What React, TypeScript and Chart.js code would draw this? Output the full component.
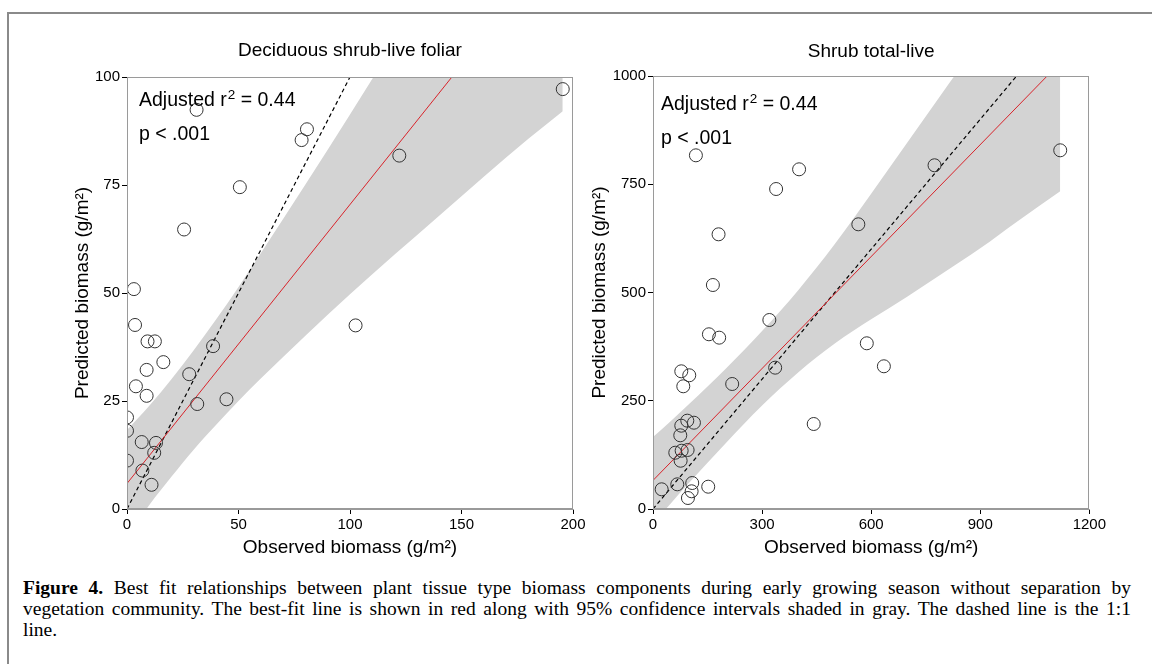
import React, { useEffect, useRef } from "react";
import { Chart, registerables } from "chart.js";

Chart.register(...registerables);

const SANS = "'Liberation Sans', Arial, Helvetica, sans-serif";
const SERIF = "'Liberation Serif', 'Times New Roman', serif";

// ---------- Left panel: Deciduous shrub-live foliar ----------
const leftTitle = "Deciduous shrub-live foliar";
const leftObserved = [3.1, 3.6, 9.2, 12.5, 38.6, 16.3, 8.8, 27.9, 4.0, 8.8, 44.6, 31.5, 102.5, 0, 0, 6.6, 13.0, 12.2, 0, 6.9, 11.0, 31.2, 80.7, 78.3, 122.1, 50.6, 25.6, 195.4];
const leftPredicted = [50.9, 42.6, 38.8, 38.8, 37.7, 34.0, 32.2, 31.2, 28.4, 26.2, 25.4, 24.3, 42.5, 21.2, 18.1, 15.5, 15.3, 13.0, 11.2, 8.9, 5.6, 92.4, 87.9, 85.4, 81.8, 74.5, 64.7, 97.2];
const leftFitX = [0, 195.4];
const leftFitY = [5.9, 132.1];
const leftBandX = [0, 10, 20, 30, 40, 50, 60, 80, 100, 120, 140, 160, 180, 195.4];
const leftBandLower = [-6.5, 0.9, 7.5, 13.8, 19.5, 25.0, 30.2, 40.1, 49.7, 58.9, 67.9, 76.9, 85.7, 92.1];
const leftBandUpper = [18.3, 23.9, 30.1, 36.8, 43.9, 51.4, 59.2, 75.1, 91.3, 107.9, 124.7, 141.7, 158.7, 172.1];
const leftOneToOne = [0, 100];
const leftXTicks = [0, 50, 100, 150, 200];
const leftYTicks = [0, 25, 50, 75, 100];

// ---------- Right panel: Shrub total-live ----------
const rightTitle = "Shrub total-live";
const rightObserved = [320, 153.8, 182, 588, 635, 336, 77.8, 99.7, 83.3, 217.8, 442, 94.3, 112.6, 77.8, 75, 61.3, 95.2, 78.8, 76, 23.8, 66.8, 107.9, 151.9, 106.2, 96.1, 118, 401.8, 338.6, 180.3, 164.7, 564.7, 774.3, 1120];
const rightPredicted = [436.5, 403.5, 395.7, 382.7, 329.6, 326.4, 318, 308.8, 283.4, 288.7, 196.3, 204, 199.3, 192.4, 170.2, 130, 136.3, 134.6, 111.5, 45.5, 57, 60, 51.5, 40.9, 25.4, 816.8, 784.5, 739, 634.4, 517.3, 657.5, 793.8, 828.4];
const rightFitX = [0, 1120];
const rightFitY = [66, 1031];
const rightBandX = [0, 50, 100, 200, 300, 400, 500, 600, 700, 800, 900, 1000, 1120];
const rightBandLower = [-34, 14, 61, 152, 239, 316, 382, 438, 491, 546, 602, 663, 734];
const rightBandUpper = [166, 204, 243, 324, 411, 506, 612, 728, 847, 966, 1082, 1193, 1328];
const rightOneToOne = [0, 1000];
const rightXTicks = [0, 300, 600, 900, 1200];
const rightYTicks = [0, 250, 500, 750, 1000];

const statLine1 = ["Adjusted r", "2", " = 0.44"];
const statLine2 = "p < .001";
const xTitle = "Observed biomass (g/m²)";
const yTitle = "Predicted biomass (g/m²)";

const captionBold = "Figure 4.";
const captionLines = [
  " Best fit relationships between plant tissue type biomass components during early growing season without separation by",
  "vegetation community. The best-fit line is shown in red along with 95% confidence intervals shaded in gray. The dashed line is the 1:1",
  "line.",
];

const panelText = {
  id: "panelText",
  afterDraw(chart: any, _args: any, opts: any) {
    const { ctx, chartArea: a } = chart;
    ctx.save();
    ctx.strokeStyle = "#9a9a9a";
    ctx.lineWidth = 1;
    ctx.strokeRect(Math.round(a.left) + 0.5, Math.round(a.top) + 0.5, Math.round(a.right - a.left) - 1, Math.round(a.bottom - a.top) - 1);
    ctx.fillStyle = "#000";
    ctx.textBaseline = "alphabetic";
    ctx.textAlign = "center";
    ctx.font = `19px ${SANS}`;
    ctx.fillText(opts.title, (a.left + a.right) / 2, a.top + opts.titleDy);
    ctx.textAlign = "left";
    const x0 = a.left + opts.annDx;
    const y1 = a.top + opts.annDy1;
    ctx.font = `19.5px ${SANS}`;
    ctx.fillText(statLine1[0], x0, y1);
    let x = x0 + ctx.measureText(statLine1[0]).width + 1;
    ctx.font = `13.5px ${SANS}`;
    ctx.fillText(statLine1[1], x, y1 - 7.5);
    x += ctx.measureText(statLine1[1]).width;
    ctx.font = `19.5px ${SANS}`;
    ctx.fillText(statLine1[2], x, y1);
    ctx.fillText(statLine2, x0, a.top + opts.annDy2);
    ctx.restore();
  },
};

type Panel = {
  title: string;
  observed: number[];
  predicted: number[];
  fitX: number[];
  fitY: number[];
  bandX: number[];
  bandLower: number[];
  bandUpper: number[];
  oneToOne: number[];
  xTicks: number[];
  yTicks: number[];
  left: number;
  top: number;
  width: number;
  height: number;
  padTop: number;
  padRight: number;
  yAxisW: number;
  xAxisH: number;
  titleDy: number;
  annDx: number;
  annDy1: number;
  annDy2: number;
};

const leftPanel: Panel = {
  title: leftTitle, observed: leftObserved, predicted: leftPredicted,
  fitX: leftFitX, fitY: leftFitY, bandX: leftBandX, bandLower: leftBandLower, bandUpper: leftBandUpper,
  oneToOne: leftOneToOne, xTicks: leftXTicks, yTicks: leftYTicks,
  left: 67, top: 20, width: 521, height: 543, padTop: 57, padRight: 15, yAxisW: 60, xAxisH: 54,
  titleDy: -21, annDx: 12, annDy1: 29, annDy2: 63,
};

const rightPanel: Panel = {
  title: rightTitle, observed: rightObserved, predicted: rightPredicted,
  fitX: rightFitX, fitY: rightFitY, bandX: rightBandX, bandLower: rightBandLower, bandUpper: rightBandUpper,
  oneToOne: rightOneToOne, xTicks: rightXTicks, yTicks: rightYTicks,
  left: 584, top: 20, width: 524, height: 543, padTop: 56, padRight: 18, yAxisW: 69, xAxisH: 54,
  titleDy: -19, annDx: 8, annDy1: 34, annDy2: 68,
};

function axis(ticks: number[], title: string, fit: (s: any) => void) {
  return {
    type: "linear" as const,
    min: ticks[0],
    max: ticks[ticks.length - 1],
    ticks: {
      stepSize: ticks[1] - ticks[0],
      color: "#000",
      font: { family: SANS, size: 15 },
      padding: 2,
      maxRotation: 0,
      callback: (v: any) => String(v),
    },
    grid: { drawOnChartArea: false, color: "#000", tickLength: 5, lineWidth: 1 },
    border: { color: "#9a9a9a", width: 1 },
    title: { display: true, text: title, color: "#000", font: { family: SANS, size: 19 }, padding: { top: 4, bottom: 4 } },
    afterFit: fit,
  };
}

function ScatterPanel({ p }: { p: Panel }) {
  const ref = useRef<HTMLCanvasElement>(null);
  useEffect(() => {
    if (!ref.current) return;
    const pts = p.observed.map((x, i) => ({ x, y: p.predicted[i] }));
    const fit = p.fitX.map((x, i) => ({ x, y: p.fitY[i] }));
    const one = p.oneToOne.map((v) => ({ x: v, y: v }));
    const up = p.bandX.map((x, i) => ({ x, y: p.bandUpper[i] }));
    const lo = p.bandX.map((x, i) => ({ x, y: p.bandLower[i] }));
    const chart = new Chart(ref.current, {
      type: "scatter",
      data: {
        datasets: [
          { type: "scatter", data: pts, pointRadius: 6.5, pointBorderColor: "#333", pointBackgroundColor: "rgba(0,0,0,0)", pointBorderWidth: 1, clip: 0, order: 0 } as any,
          { type: "line", data: fit, borderColor: "#d8232a", borderWidth: 1, pointRadius: 0, fill: false, clip: 0, order: 1 } as any,
          { type: "line", data: one, borderColor: "#000", borderWidth: 1.2, borderDash: [4, 3], pointRadius: 0, fill: false, clip: 0, order: 2 } as any,
          { type: "line", data: up, borderColor: "rgba(0,0,0,0)", borderWidth: 0, pointRadius: 0, fill: "+1", backgroundColor: "#d3d3d3", cubicInterpolationMode: "monotone", clip: 0, order: 3 } as any,
          { type: "line", data: lo, borderColor: "rgba(0,0,0,0)", borderWidth: 0, pointRadius: 0, fill: false, cubicInterpolationMode: "monotone", clip: 0, order: 4 } as any,
        ],
      },
      options: {
        animation: false,
        responsive: false,
        devicePixelRatio: 1,
        layout: { padding: { top: p.padTop, right: p.padRight, left: 0, bottom: 0 } },
        plugins: {
          legend: { display: false },
          tooltip: { enabled: false },
          panelText: { title: p.title, titleDy: p.titleDy, annDx: p.annDx, annDy1: p.annDy1, annDy2: p.annDy2 },
        } as any,
        scales: {
          x: axis(p.xTicks, xTitle, (s: any) => { s.height = p.xAxisH; }),
          y: axis(p.yTicks, yTitle, (s: any) => { s.width = p.yAxisW; }),
        } as any,
      },
      plugins: [panelText],
    });
    return () => chart.destroy();
  }, [p]);
  return (
    <canvas
      ref={ref}
      width={p.width}
      height={p.height}
      style={{ position: "absolute", left: p.left, top: p.top, width: p.width, height: p.height }}
    />
  );
}

export default function App() {
  return (
    <div style={{ position: "absolute", left: 0, top: 0, width: 1152, height: 664, background: "#fff", overflow: "hidden" }}>
      <div style={{ position: "absolute", left: 7, top: 12, width: 1145, height: 660, borderTop: "2px solid #8a8a8a", borderLeft: "2px solid #8a8a8a" }} />
      <ScatterPanel p={leftPanel} />
      <ScatterPanel p={rightPanel} />
      <div style={{ position: "absolute", left: 23, top: 577, width: 1108, fontFamily: SERIF, fontSize: 19.5, lineHeight: "21px", color: "#000" }}>
        <div style={{ textAlign: "justify", textAlignLast: "justify", whiteSpace: "nowrap" }}>
          <b>{captionBold}</b>{captionLines[0]}
        </div>
        <div style={{ textAlign: "justify", textAlignLast: "justify", whiteSpace: "nowrap" }}>{captionLines[1]}</div>
        <div style={{ textAlign: "left" }}>{captionLines[2]}</div>
      </div>
    </div>
  );
}
